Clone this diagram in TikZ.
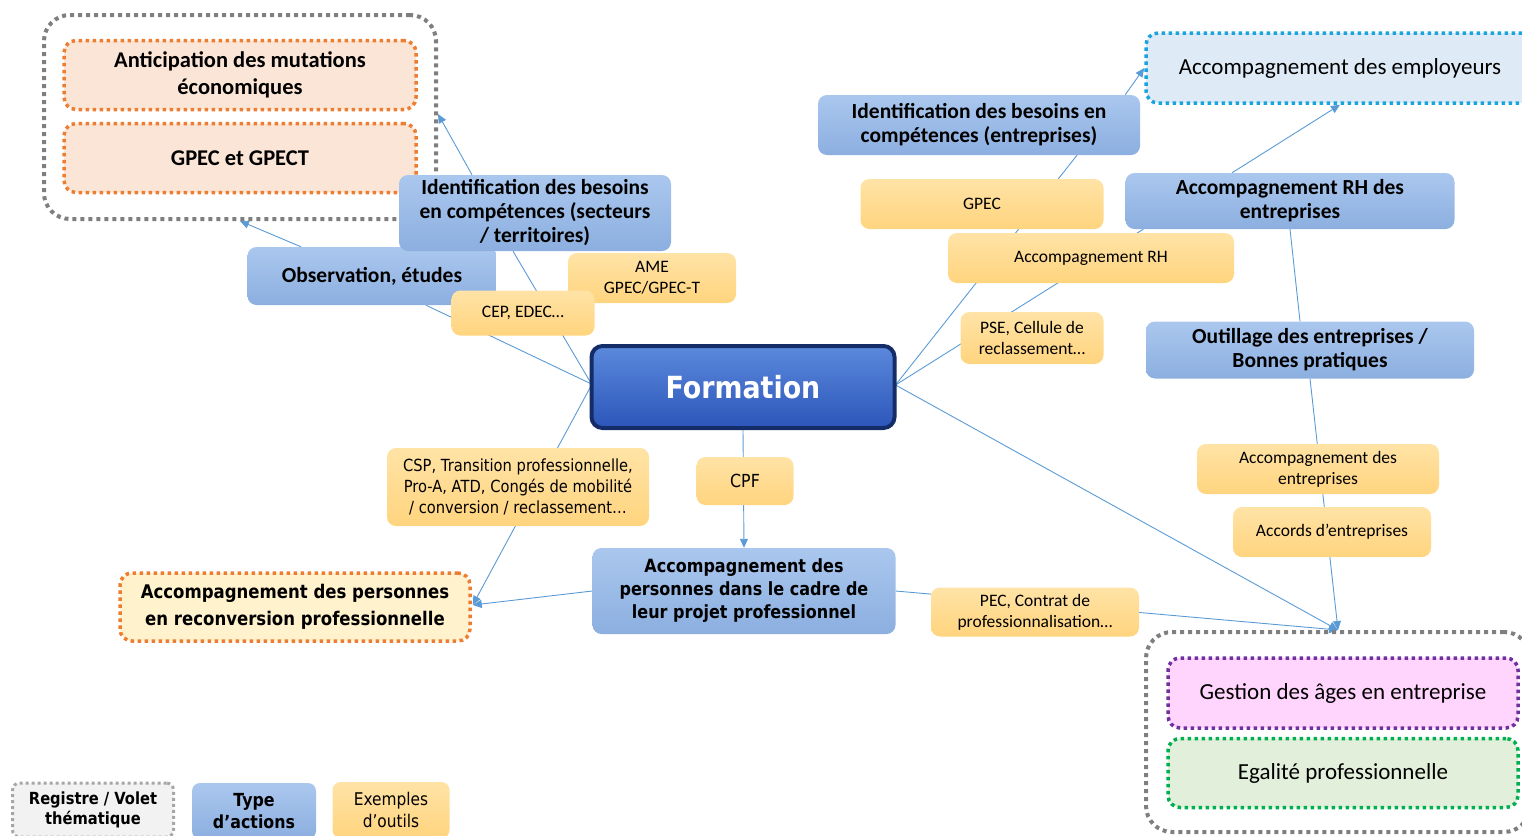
\documentclass[tikz,border=0pt]{standalone}
\usepackage{fontspec}
\setmainfont{Carlito}
\newfontfamily\tah[FakeStretch=0.88]{DejaVu Sans}
\usetikzlibrary{arrows.meta,calc,backgrounds}
\definecolor{actT}{HTML}{AAC7EE}
\definecolor{actB}{HTML}{8CAFE0}
\definecolor{toolT}{HTML}{FFE3A6}
\definecolor{toolB}{HTML}{FFD47E}
\definecolor{formT}{HTML}{5B89DC}
\definecolor{formB}{HTML}{2C56BA}
\definecolor{formD}{HTML}{142D68}
\definecolor{greyB}{HTML}{7F7F7F}
\definecolor{lgreyB}{HTML}{A6A6A6}
\definecolor{orangeB}{HTML}{ED7D31}
\definecolor{peach}{HTML}{FBE5D6}
\definecolor{cream}{HTML}{FFF2CC}
\definecolor{cyanB}{HTML}{1AA3DD}
\definecolor{lblue}{HTML}{DEEBF7}
\definecolor{purpleB}{HTML}{7030A0}
\definecolor{pinkF}{HTML}{FFD4FD}
\definecolor{greenB}{HTML}{00B050}
\definecolor{lgreen}{HTML}{E2EFDA}
\definecolor{lineC}{HTML}{5B9BD5}
\tikzset{
  sz/.style 2 args={minimum width=#1pt, minimum height=#2pt},
  act/.style={rounded corners=9pt, top color=actT, bottom color=actB, draw=none, align=center, inner sep=0pt, text=black, font=\bfseries\fontsize{21.5}{24}\selectfont},
  tool/.style={rounded corners=9pt, top color=toolT, bottom color=toolB, draw=none, align=center, inner sep=0pt, text=black, font=\fontsize{17.5}{21}\selectfont},
  regbox/.style={rounded corners=12pt, draw=#1, line width=3.5pt, dash pattern=on 3.5pt off 3.5pt, align=center, inner sep=0pt, text=black},
  outerbox/.style={rounded corners=26pt, draw=greyB, line width=4pt, dash pattern=on 4pt off 4pt},
  conn/.style={draw=lineC, line width=0.9pt},
  arr/.style={conn, -{Triangle[length=9pt,width=8pt]}},
}
\begin{document}
\begin{tikzpicture}[x=1pt,y=-1pt]
\useasboundingbox (0,0) rectangle (1522,835);
% outer registers
\node[outerbox, sz={392}{204}] (tlbox) at (240,117) {};
\node[outerbox, sz={384}{200}] (brbox) at (1338,732) {};
% register boxes
\node[regbox=orangeB, fill=peach, sz={352}{69}, font=\bfseries\fontsize{22.5}{27}\selectfont] (anti) at (240,75) {Anticipation des mutations\\économiques};
\node[regbox=orangeB, fill=peach, sz={352}{69}, font=\bfseries\fontsize{22.5}{27}\selectfont] (gpect) at (240,158) {GPEC et GPECT};
\node[regbox=orangeB, fill=cream, sz={350}{68}, font=\tah\bfseries\fontsize{18.8}{27}\selectfont] (reconv) at (295,607) {Accompagnement des personnes\\en reconversion professionnelle};
\node[regbox=cyanB, fill=lblue, sz={388}{70}, font=\fontsize{23}{26}\selectfont] (emp) at (1340,68) {\hspace*{-2pt}Accompagnement des employeurs\hspace*{-2pt}};
\node[regbox=purpleB, fill=pinkF, sz={350}{70}, font=\fontsize{23}{26}\selectfont] (ages) at (1343,693) {Gestion des âges en entreprise};
\node[regbox=greenB, fill=lgreen, sz={350}{69}, font=\fontsize{23}{26}\selectfont] (egal) at (1343,773) {Egalité professionnelle};
% action boxes
\node[act, sz={249}{58}] (obs) at (372,276) {Observation, études};
\node[act, sz={272}{76}] (ids) at (535,213) {Identification des besoins\\en compétences (secteurs\\/ territoires)};
\node[rounded corners=11pt, top color=formT, bottom color=formB, draw=formD, line width=4pt, sz={303}{82}, text=white, font=\tah\bfseries\fontsize{30.5}{36}\selectfont] (form) at (743,387) {Formation};
\node[act, sz={303}{86}, font=\tah\bfseries\fontsize{18.2}{23}\selectfont] (pers) at (744,591) {Accompagnement des\\personnes dans le cadre de\\leur projet professionnel};
\node[act, sz={322}{60}] (ide) at (979,125) {Identification des besoins en\\compétences (entreprises)};
\node[act, sz={329}{56}] (arh) at (1290,201) {Accompagnement RH des\\entreprises};
\node[act, sz={328}{57}] (outil) at (1310,350) {Outillage des entreprises /\\Bonnes pratiques};
% connectors
\begin{scope}[on background layer]
\draw[arr] ($(obs.north)+(-71,0)$) -- (tlbox.south);
\draw[arr] ($(ids.north)+(-63,0)$) -- ($(tlbox.east)+(0,-3)$);
\draw[conn] ($(ids.south)+(-22,0)$) -- ($(form.west)+(2,-3)$);
\draw[conn] ($(obs.south)+(54,0)$) -- ($(form.west)+(2,-3)$);
\draw[arr] ($(form.west)+(2,-2)$) -- ($(reconv.east)+(1,-2)$);
\draw[arr] (form.south) -- (pers.north);
\draw[arr] (pers.west) -- ($(reconv.east)+(1,-2)$);
\draw[arr] (pers.east) -- (brbox.north);
\draw[arr] ($(form.east)+(-1,-2)$) -- (brbox.north);
\draw[conn] ($(form.east)+(-1,-2)$) -- ($(ide.south)+(98,0)$);
\draw[conn] ($(form.east)+(-1,-2)$) -- ($(arh.south west)+(18,0)$);
\draw[arr] ($(ide.north east)+(-15,0)$) -- (emp.west);
\draw[arr] ($(arh.north)+(-58,0)$) -- (emp.south);
\draw[conn] (arh.south) -- ($(outil.north)+(-10,0)$);
\draw[arr] (outil.south) -- (brbox.north);
\end{scope}
% tool boxes
\node[tool, sz={168}{50}] (ame) at (652,278) {AME\\GPEC/GPEC-T};
\node[tool, sz={143}{45}] (cep) at (523,313) {CEP, EDEC…};
\node[tool, sz={262}{78}, font=\tah\fontsize{16.7}{21}\selectfont] (csp) at (518,487) {CSP, Transition professionnelle,\\Pro-A, ATD, Congés de mobilité\\/ conversion / reclassement…};
\node[tool, sz={97}{48}, font=\tah\fontsize{18}{20}\selectfont] (cpf) at (745,481) {CPF};
\node[tool, sz={243}{50}] (gpec) at (982,204) {GPEC};
\node[tool, sz={286}{50}] (accrh) at (1091,258) {Accompagnement RH};
\node[tool, sz={143}{52}] (pse) at (1032,338) {PSE, Cellule de\\reclassement…};
\node[tool, sz={242}{50}] (acce) at (1318,469) {Accompagnement des\\entreprises};
\node[tool, sz={198}{50}] (accords) at (1332,532) {Accords d’entreprises};
\node[tool, sz={208}{49}] (pec) at (1035,612) {PEC, Contrat de\\professionnalisation…};
% legend
\node[regbox=lgreyB, fill=black!5, line width=3pt, dash pattern=on 3pt off 3pt, rounded corners=7pt, sz={161}{54}, font=\tah\bfseries\fontsize{16.7}{20}\selectfont] (lreg) at (93,810) {Registre / Volet\\thématique};
\node[act, sz={124}{56}, rounded corners=8pt, font=\tah\bfseries\fontsize{18}{22}\selectfont] (ltype) at (254,811) {Type\\d’actions};
\node[tool, sz={117}{56}, rounded corners=8pt, font=\tah\fontsize{17.5}{22}\selectfont] (ltool) at (391,810) {Exemples\\d’outils};
\end{tikzpicture}
\end{document}
